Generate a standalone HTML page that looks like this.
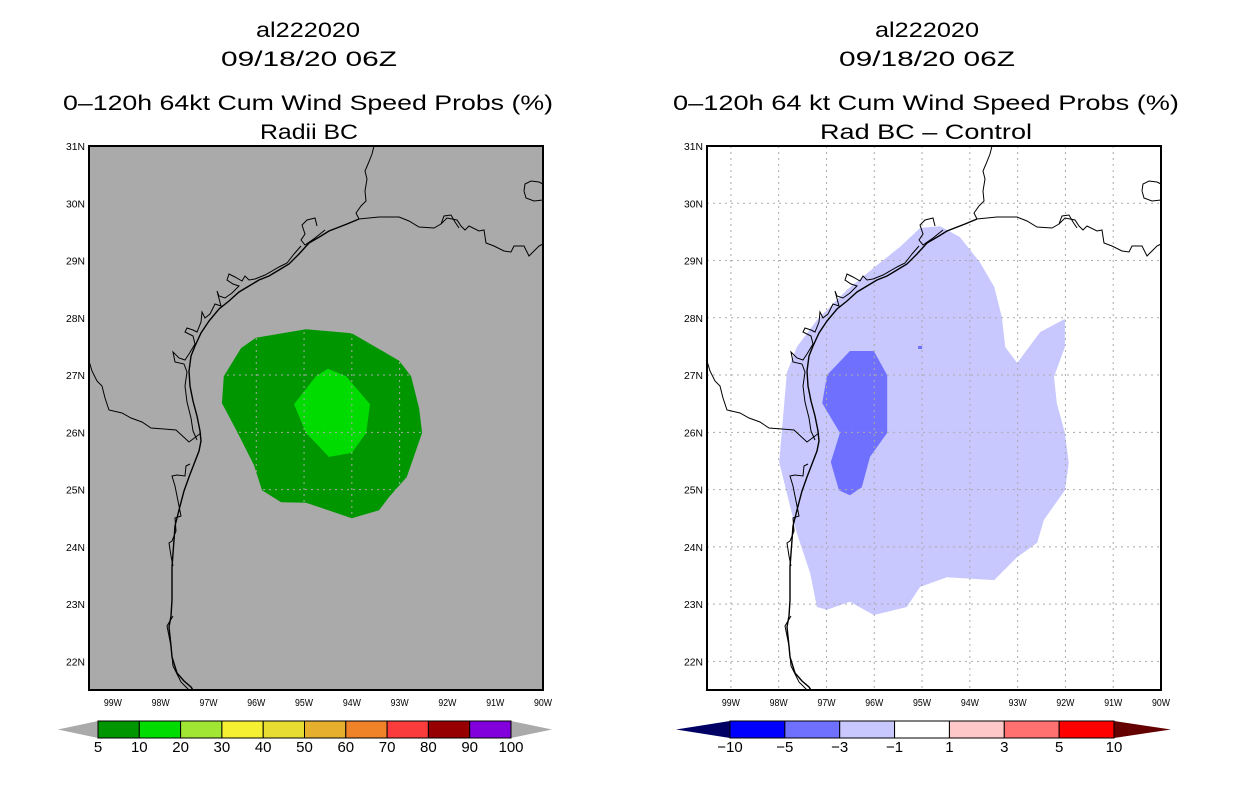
<!DOCTYPE html>
<html><head><meta charset="utf-8"><style>
body{margin:0;background:#fff;width:1236px;height:800px;overflow:hidden}
svg{display:block}
text{font-family:"Liberation Sans",sans-serif;fill:#000}
</style></head><body>
<svg id="fig" width="1236" height="800" viewBox="0 0 1236 800"></svg>
<script>
// ---- data ----
const lonTicks=[-99,-98,-97,-96,-95,-94,-93,-92,-91,-90];
const latTicks=[22,23,24,25,26,27,28,29,30,31];
const probLevels=["5","10","20","30","40","50","60","70","80","90","100"];
const probColors=["#009600","#00dc00","#a0e632","#f5f032","#e6dc32","#e6af2d","#f08228","#fa3c3c","#960000","#8200dc"];
const diffLevels=["-10","-5","-3","-1","1","3","5","10"];
const diffColors=["#0000ff","#7070ff","#c8c8ff","#ffffff","#ffc8c8","#ff7070","#ff0000"];
const probOuterLon=[-96.72,-96.68,-96.32,-96.01,-94.96,-94.0,-93.01,-92.76,-92.59,-92.53,-92.85,-93.22,-93.43,-94.0,-94.96,-95.48,-95.88,-96.05,-96.42];
const probOuterLat=[26.51,26.98,27.47,27.65,27.80,27.73,27.25,26.98,26.41,25.99,25.22,24.87,24.64,24.50,24.77,24.78,24.99,25.43,26.04];
const probInnerLon=[-94.50,-94.12,-93.62,-93.70,-94.0,-94.48,-94.96,-95.21,-94.75];
const probInnerLat=[27.11,26.98,26.49,25.99,25.64,25.57,25.99,26.49,26.98];
const diffLightLon=[-95.04,-94.62,-94.21,-93.79,-93.49,-93.33,-93.26,-93.01,-92.53,-92.01,-92.01,-92.24,-92.18,-92.01,-91.93,-92.01,-92.45,-92.59,-93.01,-93.49,-94.48,-95.04,-95.32,-96.01,-96.51,-96.99,-97.20,-97.34,-97.62,-97.83,-97.99,-97.89,-97.83,-97.62,-97.20,-96.57,-95.88,-95.46];
const diffLightLat=[29.57,29.60,29.41,28.97,28.54,28.01,27.49,27.21,27.75,27.98,27.49,26.97,26.51,25.99,25.46,24.99,24.47,24.07,23.82,23.42,23.47,23.30,22.95,22.81,23.04,22.90,22.95,23.54,24.24,24.94,25.48,26.44,27.04,27.49,27.96,28.49,28.96,29.24];
const diffDarkLon=[-96.51,-96.01,-95.73,-95.73,-96.09,-96.26,-96.51,-96.74,-96.91,-96.72,-97.09,-96.99];
const diffDarkLat=[27.42,27.42,27.00,25.99,25.57,25.04,24.90,24.99,25.48,25.99,26.51,27.00];
</script>
<script>
const NS="http://www.w3.org/2000/svg";
const fig=document.getElementById('fig');
function mk(tag,attrs,parent){const e=document.createElementNS(NS,tag);for(const k in attrs)e.setAttribute(k,attrs[k]);(parent||fig).appendChild(e);return e;}
const W=454,H=544,LON0=-99.5,LON1=-90,LAT0=21.5,LAT1=31;
const xs=lon=>(lon-LON0)/(LON1-LON0)*W;
const ys=lat=>(LAT1-lat)/(LAT1-LAT0)*H;
const coastMain="M270,73 L258,78 L240,85 L232,90 L220,97 L210,108 L200,118 L190,124 L180,130 L170,134 L160,140 L150,146 L140,155 L130,163 L120,175 L112,187 L106,200 L102,210 L100,225 L101,240 L104,255 L108,270 L111,285 L112,295 L110,305 L105,318 L100,331 L95,345 L90,364 L86,380 L85,394 L83,421 L83,454 L82,470 L80,481 L82,500 L83,511 L88,527 L95,535 L102,541 L104,544";
const coastInner="M236,84 L226,92 L216,99 L212,94 L216,88 L213,79 L218,74 L226,72 L228,80 M212,100 L205,108 L198,117 L190,121 L176,129 L166,133 L160,134 L156,130 L153,135 L146,131 L140,128 L138,134 L144,138 L150,140 L143,147 L136,152 L130,150 L128,145 L132,160 L126,158 L121,168 L116,172 L113,166 L112,176 L108,186 L104,184 L98,182 L96,186 L104,190 L106,198 L100,208 L96,214 L90,212 L84,206 L86,216 L95,218 L98,226 L96,240 L98,256 L102,272 L104,285 L108,294 M101,318 L97,320 L96,330 L88,329 L83,330 L86,340 L89,355 L92,370 L86,372 L87,385 L83,395 L80,397 L82,410 L84,420 M84,470 L78,480 L82,500 L84,520 L92,536 L100,544";
const border="M0,200 L0,215 L3,225 L8,235 L13,240 L16,252 L20,264 L33,267 L42,272 L53,276 L62,282 L75,283 L87,284 L100,296 L112,287";
const sabine="M285,0 L283,8 L279,18 L276,25 L278,33 L276,45 L277,55 L272,60 L267,67 L270,73 L290,71 L310,71 L320,75 L330,81 L345,82 L352,78 L358,72 L368,74 L372,80 L376,84 L380,80 L390,85 L395,84 L397,97 L405,100 L415,105 L422,106 L425,100 L435,100 L440,110 L445,105 L450,100 L454,98 M352,78 L355,70 L362,69 L366,76 L370,82 M435,45 L436,38 L442,35 L450,36 L454,38 M435,45 L437,52 L445,55 L454,54";
function panel(ox,bg,name){
  const g=mk('g',{transform:`translate(${ox},146)`});
  
  
  const r=mk('rect',{x:0,y:0,width:W,height:H,fill:bg},g);
  
  
  return g;
}
function poly(g,lons,lats,fill,name){
  const pts=lons.map((l,i)=>xs(l).toFixed(1)+','+ys(lats[i]).toFixed(1)).join(' ');
  const p=mk('polygon',{points:pts,fill:fill},g);
  
  
}
function overlay(g,gridCol){
  const gg=mk('g',{stroke:gridCol,'stroke-width':1,'stroke-dasharray':'2,4'},g);
  
  
  lonTicks.slice(0,-1).forEach(l=>mk('line',{x1:xs(l),x2:xs(l),y1:0,y2:H},gg));
  latTicks.slice(0,-1).forEach(l=>mk('line',{x1:0,x2:W,y1:ys(l),y2:ys(l)},gg));
  [coastMain,coastInner,border,sabine].forEach((d,i)=>{
    const p=mk('path',{d:d,fill:'none',stroke:'#000','stroke-width':i==0?1.4:1},g);
    
    
  });
  const f=mk('rect',{x:0,y:0,width:W,height:H,fill:'none',stroke:'#000','stroke-width':2},g);
  
  
  lonTicks.forEach(l=>{
    const t=mk('text',{x:xs(l),y:H+16,'font-size':10,'text-anchor':'middle',textLength:18,lengthAdjust:'spacingAndGlyphs'},g);
    t.textContent=Math.abs(l)+'W';
    
    
  });
  latTicks.forEach(l=>{
    const t=mk('text',{x:-4,y:ys(l)+4,'font-size':10,'text-anchor':'end',textLength:19,lengthAdjust:'spacingAndGlyphs'},g);
    t.textContent=l+'N';
    
    
  });
}
function title(cx,y,s,w,name){
  const t=mk('text',{x:cx,y:y,'font-size':21,'text-anchor':'middle',textLength:w,lengthAdjust:'spacingAndGlyphs'});
  t.textContent=s;
  
  
}
// left
const L=panel(89,'#aaaaaa','left-map');
poly(L,probOuterLon,probOuterLat,probColors[0],'prob-5-10-area');
poly(L,probInnerLon,probInnerLat,probColors[1],'prob-10-20-area');
overlay(L,'#aaaaaa');
// right
const R=panel(707,'#ffffff','right-map');
poly(R,diffLightLon,diffLightLat,diffColors[2],'diff-minus1-minus3-area');
poly(R,diffDarkLon,diffDarkLat,diffColors[1],'diff-minus3-minus5-area');
const dot=mk('rect',{x:xs(-95.04)-2,y:ys(27.49)-1,width:4,height:3,fill:diffColors[1]},R);


overlay(R,'#aaaaaa');
// titles
title(308,37,'al222020',104,'left-storm-id');
title(309,66,'09/18/20 06Z',176,'left-date');
title(308,110,'0–120h 64kt Cum Wind Speed Probs (%)',490,'left-title');
title(309,139,'Radii BC',98,'left-subtitle');
title(927,37,'al222020',104,'right-storm-id');
title(927,66,'09/18/20 06Z',176,'right-date');
title(926,110,'0–120h 64 kt Cum Wind Speed Probs (%)',506,'right-title');
title(926,139,'Rad BC – Control',212,'right-subtitle');
// colorbars
function colorbar(x0,x1,tipL,tipR,cols,labels,leftCol,rightCol,name){
  const g=mk('g',{});
  
  
  const y0=721,y1=738,ym=(y0+y1)/2,bw=(x1-x0)/cols.length;
  const a=mk('polygon',{points:`${tipL},${ym} ${x0},${y0} ${x0},${y1}`,fill:leftCol},g);
  
  const b=mk('polygon',{points:`${tipR},${ym} ${x1},${y0} ${x1},${y1}`,fill:rightCol},g);
  
  cols.forEach((c,i)=>{
    const r=mk('rect',{x:x0+i*bw,y:y0,width:bw,height:y1-y0,fill:c,stroke:'#000','stroke-width':1},g);
    
    
  });
  labels.forEach((s,i)=>{
    const t=mk('text',{x:x0+i*bw,y:752,'font-size':15,'text-anchor':'middle'},g);
    t.textContent=s.replace('-','−');
    
    
  });
}
colorbar(98,511,58,552,probColors,probLevels,'#aaaaaa','#aaaaaa','prob-colorbar');
colorbar(730,1114,676,1171,diffColors,diffLevels,'#000064','#640000','diff-colorbar');
</script>
</body></html>
